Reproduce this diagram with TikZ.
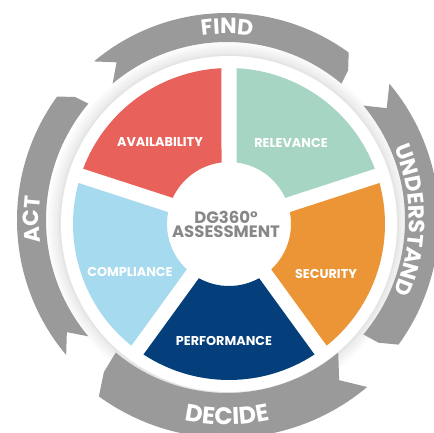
\documentclass[tikz,border=0pt]{standalone}
\usepackage{fontspec}
\setmainfont{Poppins}
\usetikzlibrary{decorations.text}
\definecolor{availc}{HTML}{E8615A}
\definecolor{relevc}{HTML}{A7D5C3}
\definecolor{securc}{HTML}{EC9536}
\definecolor{perfc}{HTML}{053F7B}
\definecolor{complc}{HTML}{A6DAEF}
\definecolor{ringgray}{HTML}{9A9A9A}
\definecolor{centergray}{HTML}{878787}
\newcommand\ringfontA{\bfseries\fontsize{22}{22}\selectfont}
\newcommand\ringfontB{\bfseries\fontsize{22}{22}\selectfont}
\newcommand\ringfontC{\bfseries\fontsize{24}{24}\selectfont}
\tikzset{
  seglabel/.style={text=white, font=\bfseries\fontsize{12.8}{13}\selectfont, inner sep=0pt},
  centerlabel/.style={text=centergray, font=\bfseries\fontsize{16.5}{17}\selectfont, inner sep=0pt},
  ringfill/.style={fill=ringgray}
}
% #1 tail angle (ccw end), #2 head angle (cw end), #3 inner radius, #4 outer radius
\newcommand\drawringarrow[4]{%
  \pgfmathsetmacro\arMid{(#3+#4)/2}%
  \pgfmathsetmacro\arNotch{#1-5}%
  \pgfmathsetmacro\arHo{#2+4}%
  \pgfmathsetmacro\arHt{#2+1}%
  \fill[ringfill] (#1:#4pt) arc[start angle=#1, end angle=\arHo, radius=#4pt]
    -- (\arHt:\arMid pt) -- (#2:#3pt)
    arc[start angle=#2, end angle=#1, radius=#3pt]
    -- (\arNotch:\arMid pt) -- cycle;}
% segment between boundary angles #1 (higher) and #1-72
\newcommand\drawsegment[2]{%
  \pgfmathsetmacro\sgA{#1-72+2.76}%
  \pgfmathsetmacro\sgB{#1-2.76}%
  \pgfmathsetmacro\sgC{#1-6.95}%
  \pgfmathsetmacro\sgD{#1-72+6.95}%
  \fill[#2] (\sgA:156pt) arc[start angle=\sgA, end angle=\sgB, radius=156pt]
    -- (\sgC:62pt) arc[start angle=\sgC, end angle=\sgD, radius=62pt] -- cycle;}
\begin{document}
\begin{tikzpicture}[x=1pt,y=1pt]
\useasboundingbox (0,0) rectangle (434,432);
\fill[white] (0,0) rectangle (434,432);
% wheel
\begin{scope}[shift={(229,208)}]
  \fill[black!2] (0,0) circle (181pt);
  \fill[black!4] (0,0) circle (178pt);
  \fill[black!6] (0,0) circle (175pt);
  \fill[black!8] (0,0) circle (172pt);
  \fill[black!10] (0,0) circle (170pt);
  \fill[white] (0,0) circle (168pt);
  \drawsegment{90}{relevc}
  \drawsegment{18}{securc}
  \drawsegment{-54}{perfc}
  \drawsegment{-126}{complc}
  \drawsegment{162}{availc}
\end{scope}
% ring arrows
\begin{scope}[shift={(227,212)}]
  \drawringarrow{130}{50}{178}{207}
  \drawringarrow{40}{-40}{178}{212}
  \drawringarrow{-50}{-130}{173}{218}
  \drawringarrow{220}{140}{181}{210}
  \path[decorate, decoration={text along path, text={|\ringfontA|FIND}, text align=center, text color=white}]
    (130:186pt) arc[start angle=130, end angle=50, radius=186pt];
  \path[decorate, decoration={text along path, text={|\ringfontB|UNDERSTAND}, text align=center, text color=white}]
    (40:182pt) arc[start angle=40, end angle=-40, radius=182pt];
  \path[decorate, decoration={text along path, text={|\ringfontC|DECIDE}, text align=center, text color=white}]
    (-130:205pt) arc[start angle=-130, end angle=-50, radius=205pt];
  \path[decorate, decoration={text along path, text={|\ringfontA|ACT}, text align=center, text color=white}]
    (220:188pt) arc[start angle=220, end angle=140, radius=188pt];
\end{scope}
% labels
\node[seglabel] (avail) at (160,289.5) {AVAILABILITY};
\node[seglabel] (relev) at (291,289.5) {RELEVANCE};
\node[seglabel] (secur) at (326,158) {SECURITY};
\node[seglabel] (perf) at (224,91) {PERFORMANCE};
\node[seglabel] (compl) at (130,160) {COMPLIANCE};
\node[centerlabel] (dg) at (226,215) {DG360°};
\node[centerlabel] (assess) at (226,200.5) {ASSESSMENT};
\end{tikzpicture}
\end{document}
